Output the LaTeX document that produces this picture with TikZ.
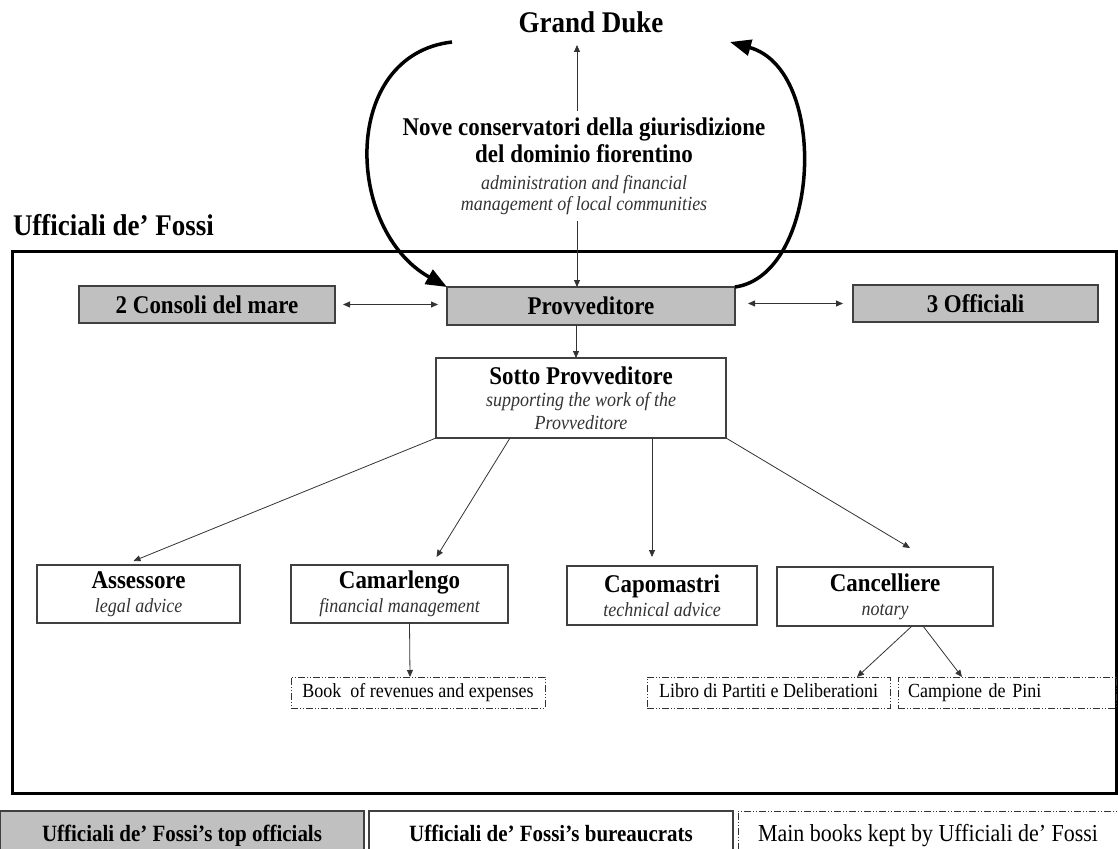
\documentclass[tikz,border=0pt]{standalone}
\usepackage{fontspec}
\setmainfont{Liberation Serif}[FakeStretch=0.9]
\usetikzlibrary{arrows.meta,calc}
\newcommand\subfnt{\fontsize{20}{22}\selectfont\mdseries\itshape\color{black!80}}
\begin{document}
\begin{tikzpicture}[x=1pt,y=-1pt,
  every node/.style={inner sep=0pt, outer sep=0pt},
  heading/.style={font=\fontsize{30}{34}\selectfont\bfseries},
  topoff/.style={draw=black!75, line width=1.3pt, fill={rgb,255:red,192;green,192;blue,192}, font=\fontsize{25.5}{28}\selectfont\bfseries},
  bureau/.style={draw=black!75, line width=1.3pt, fill=white, align=center, font=\fontsize{25.5}{28}\selectfont\bfseries},
  legendbox/.style={draw=black!75, line width=1.3pt, fill=white, font=\fontsize{23.3}{26}\selectfont\bfseries},
  legendtext/.style={text height=17pt, text depth=5pt, minimum height=48, anchor=north west},
  bookbox/.style={draw=black!80, line width=0.9pt, dash pattern=on 7pt off 2pt on 1pt off 2pt on 1pt off 2pt, font=\fontsize{20}{22}\selectfont, text height=14pt, text depth=4pt},
  thinarrow/.style={draw=black!80, line width=0.8pt, -{Triangle[length=7pt,width=6pt]}},
  duoarrow/.style={draw=black!80, line width=0.8pt, {Triangle[length=7pt,width=6pt]}-{Triangle[length=7pt,width=6pt]}},
  bigarrow/.style={line width=3.5pt, -{Triangle[length=21pt,width=16pt]}},
  frame/.style={draw=black, line width=3pt}
]
\useasboundingbox (0,0) rectangle (1118,848);

% headings
\node[heading, minimum height=46] (gd) at (591,22) {Grand Duke};
\node[align=center, minimum height=110, font=\fontsize{25.5}{27}\selectfont\bfseries] (nove) at (584,166)
  {Nove conservatori della giurisdizione\\ del dominio fiorentino\\[0pt]
   \subfnt administration and financial\\[-6pt] \subfnt management of local communities};
\node[heading, anchor=west] (uf) at (13,225) {Ufficiali de’ Fossi};

% frame
\draw[frame] (12,251) rectangle (1116.5,793);

% top officials
\node[topoff, minimum width=256, minimum height=37] (consoli) at (207,304.5) {2 Consoli del mare};
\node[topoff, minimum width=288, minimum height=38] (provv) at (591,306) {Provveditore};
\node[topoff, minimum width=245, minimum height=37] (offic) at (975.5,303.5) {3 Officiali};

% bureaucrats
\node[bureau, minimum width=290, minimum height=80] (sotto) at (581,398)
  {Sotto Provveditore\\[-6pt] \subfnt supporting the work of the\\[-5pt] \subfnt Provveditore};
\node[bureau, minimum width=203, minimum height=58] (asses) at (138.5,594)
  {Assessore\\[-4pt] \subfnt legal advice};
\node[bureau, minimum width=217, minimum height=58] (camar) at (399.5,594)
  {Camarlengo\\[-4pt] \subfnt financial management};
\node[bureau, minimum width=190, minimum height=59] (capo) at (662,595.5)
  {Capomastri\\[-4pt] \subfnt technical advice};
\node[bureau, minimum width=216, minimum height=59] (canc) at (885,596.5)
  {Cancelliere\\[-4pt] \subfnt notary};

% books
\node[bookbox, minimum width=254, minimum height=31] (book) at (418,692.5) {Book\ \ of revenues and expenses};
\node[bookbox, minimum width=243, minimum height=31] (libro) at (768.5,692.5) {Libro di Partiti e Deliberationi};
\node[bookbox, minimum width=218, minimum height=31, text width=198, align=left] (camp) at (1007,692.5) {Campione de Pini};

% legend
\node[topoff, font=\fontsize{23.3}{26}\selectfont\bfseries, minimum width=364, legendtext] (lg1) at (0,811) {Ufficiali de’ Fossi’s top officials};
\node[legendbox, minimum width=364, legendtext] (lg2) at (369,811) {Ufficiali de’ Fossi’s bureaucrats};
\node[bookbox, font=\fontsize{24.4}{27}\selectfont, minimum width=380, legendtext] (lg3) at (738,811) {Main books kept by Ufficiali de’ Fossi};

% connectors
\coordinate (ax) at (577,0);
\coordinate (lstart) at (452,42);
\coordinate (rend) at (730,42);
\draw[thinarrow] (nove.north -| ax) -- (gd.south -| ax);
\draw[thinarrow] (nove.south -| ax) -- (provv.north -| ax);
\draw[thinarrow] ([xshift=-15pt]provv.south) -- ([xshift=-5pt]sotto.north);
\draw[duoarrow, shorten <=8pt, shorten >=9pt] (consoli.east) -- (consoli.east -| provv.west);
\draw[duoarrow, shorten <=13pt, shorten >=10pt] (provv.east |- offic.west) -- (offic.west);

\draw[bigarrow] (lstart) .. controls (340,55) and (345,230) .. (provv.north west);
\draw[bigarrow] (provv.north east) .. controls (820,275) and (830,70) .. (rend);

\draw[thinarrow] (sotto.south west) -- ([xshift=-5pt,yshift=4pt]asses.north);
\draw[thinarrow] ([xshift=-71pt]sotto.south) -- ([xshift=37pt,yshift=8pt]camar.north);
\draw[thinarrow] ([xshift=71pt]sotto.south) -- ([xshift=-10pt,yshift=9pt]capo.north);
\draw[thinarrow] (sotto.south east) -- ([xshift=25pt,yshift=19pt]canc.north);

\draw[thinarrow] ([xshift=10pt]camar.south) -- ([xshift=-8pt]book.north);
\draw[thinarrow] ([xshift=27pt]canc.south) -- ([xshift=88.5pt]libro.north);
\draw[thinarrow] ([xshift=38pt]canc.south) -- ([xshift=-45pt]camp.north);
\end{tikzpicture}
\end{document}
